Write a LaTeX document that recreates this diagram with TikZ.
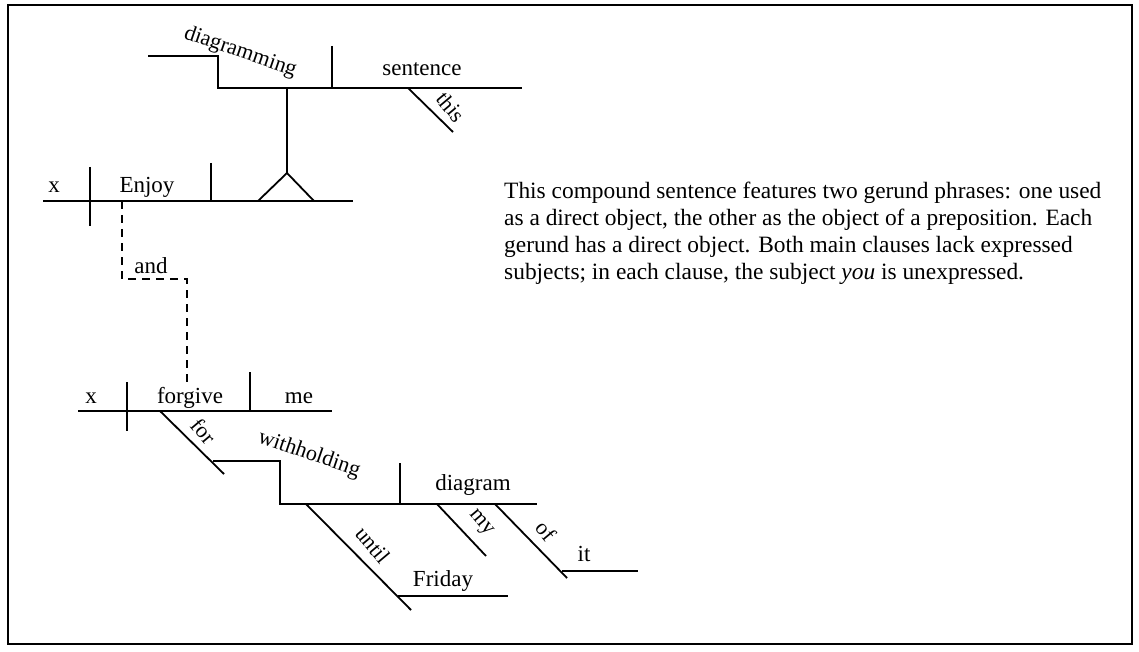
\documentclass[tikz,border=0pt]{standalone}
\usepackage{fontspec}
\setmainfont{Liberation Serif}
\begin{document}
\begin{tikzpicture}[x=1pt,y=-1pt,
  ln/.style={line width=1.8pt,line cap=butt},
  dsh/.style={line width=1.8pt,dash pattern=on 8pt off 6pt},
  lab/.style={inner sep=0pt,font=\fontsize{23}{27}\selectfont,anchor=base},
  slant/.style={inner sep=0pt,font=\fontsize{22}{27}\selectfont,rotate=-50},
  stepl/.style={inner sep=0pt,font=\fontsize{22}{27}\selectfont,anchor=base west,rotate=-19}]
\useasboundingbox (0,0) rectangle (1139,652);
% frame
\coordinate (f1) at (8,5); \coordinate (f2) at (1132,644);
\draw[line width=2pt] (f1) rectangle (f2);
% ---- top: gerund phrase "diagramming this sentence"
\coordinate (g0) at (148,56); \coordinate (g1) at (218,56);
\coordinate (g2) at (218,88); \coordinate (g3) at (522,88);
\coordinate (gb1) at (332,46); \coordinate (gb2) at (332,88);
\coordinate (st1) at (287,88); \coordinate (st2) at (287,173);
\coordinate (tr1) at (258,201); \coordinate (tr2) at (314,201);
\coordinate (th1) at (408,88); \coordinate (th2) at (453,132);
\draw[ln] (g0) -- (g1) -- (g2) -- (g3);
\draw[ln] (gb1) -- (gb2);
\draw[ln] (st1) -- (st2);
\draw[ln,line join=miter] (tr1) -- (st2) -- (tr2);
\draw[ln] (th1) -- (th2);
\node[stepl] (diagramming) at (183,38) {diagramming};
\node[lab] (sentence) at (422,76) {sentence};
\node[slant] (this) at (451,107) {this};
% ---- clause 1: x | Enjoy
\coordinate (e1) at (43,201); \coordinate (e2) at (353,201);
\coordinate (eb1) at (90,167); \coordinate (eb2) at (90,226);
\coordinate (eo1) at (211,163); \coordinate (eo2) at (211,201);
\draw[ln] (e1) -- (e2);
\draw[ln] (eb1) -- (eb2);
\draw[ln] (eo1) -- (eo2);
\node[lab] (x1) at (54,193) {x};
\node[lab] (enjoy) at (147,193) {Enjoy};
% ---- conjunction
\coordinate (d1) at (122,201); \coordinate (d2) at (122,279);
\coordinate (d3) at (187,279); \coordinate (d4) at (187,383);
\draw[dsh] (d1) -- (d2) -- (d3) -- (d4);
\node[lab] (and) at (151,273) {and};
% ---- clause 2: x | forgive | me
\coordinate (v1) at (78,411); \coordinate (v2) at (332,411);
\coordinate (vb1) at (127,382); \coordinate (vb2) at (127,431);
\coordinate (vo1) at (250,372); \coordinate (vo2) at (250,411);
\draw[ln] (v1) -- (v2);
\draw[ln] (vb1) -- (vb2);
\draw[ln] (vo1) -- (vo2);
\node[lab] (x2) at (91,403) {x};
\node[lab] (forgive) at (190,403) {forgive};
\node[lab] (me) at (299,403) {me};
% ---- for withholding diagram
\coordinate (p1) at (160,411); \coordinate (p2) at (224,474);
\coordinate (w0) at (213,461); \coordinate (w1) at (280,461);
\coordinate (w2) at (280,504); \coordinate (w3) at (537,504);
\coordinate (wb1) at (400,463); \coordinate (wb2) at (400,504);
\draw[ln] (p1) -- (p2);
\draw[ln] (w0) -- (w1) -- (w2) -- (w3);
\draw[ln] (wb1) -- (wb2);
\node[slant] (for) at (204,431) {for};
\node[stepl] (withholding) at (257,442) {withholding};
\node[lab] (diagram) at (473,490) {diagram};
% until Friday
\coordinate (u1) at (306,504); \coordinate (u2) at (411,610);
\coordinate (fr1) at (398,596); \coordinate (fr2) at (508,596);
\draw[ln] (u1) -- (u2);
\draw[ln] (fr1) -- (fr2);
\node[slant] (until) at (373,545) {until};
\node[lab] (friday) at (443,586) {Friday};
% my
\coordinate (m1) at (437,504); \coordinate (m2) at (486,556);
\draw[ln] (m1) -- (m2);
\node[slant] (my) at (481,523) {my};
% of it
\coordinate (o1) at (495,504); \coordinate (o2) at (567,578);
\coordinate (i1) at (562,571); \coordinate (i2) at (638,571);
\draw[ln] (o1) -- (o2);
\draw[ln] (i1) -- (i2);
\node[slant] (of) at (546,531) {of};
\node[lab] (it) at (584,561) {it};
% ---- explanatory text
\node[inner sep=0pt,anchor=base west,align=left,font=\fontsize{23.4}{27}\selectfont] (note) at (504,279)
{This compound sentence features two gerund phrases: one used\\
as a direct object, the other as the object of a preposition. Each\\
gerund has a direct object. Both main clauses lack expressed\\
subjects; in each clause, the subject \textit{you} is unexpressed.};
\end{tikzpicture}
\end{document}
